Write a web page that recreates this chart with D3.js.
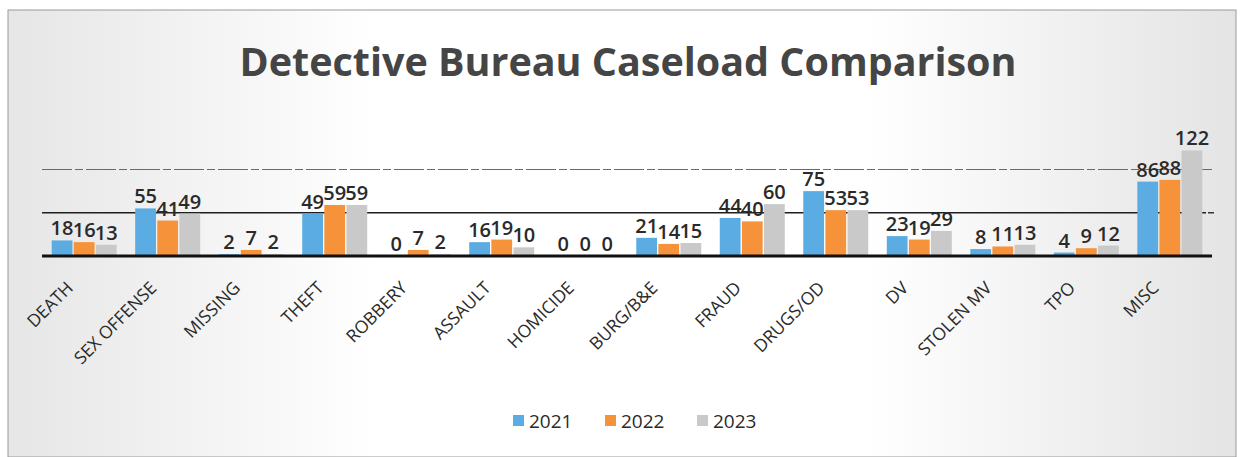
<!DOCTYPE html>
<meta charset="utf-8">
<script src="https://d3js.org/d3.v7.min.js"></script>
<style>
   body {
      margin: 0;
      padding: 0;
      background: #ffffff;
      font-family: "Open Sans", "Noto Sans", sans-serif;
   }
</style>
<body>
<svg id="chart" width="1242" height="457"></svg>
<script>
   // data
   var categories = ["DEATH", "SEX OFFENSE", "MISSING", "THEFT", "ROBBERY", "ASSAULT", "HOMICIDE",
      "BURG/B&E", "FRAUD", "DRUGS/OD", "DV", "STOLEN MV", "TPO", "MISC"];
   var years = ["2021", "2022", "2023"];
   var v2021 = [18, 55, 2, 49, 0, 16, 0, 21, 44, 75, 23, 8, 4, 86];
   var v2022 = [16, 41, 7, 59, 7, 19, 0, 14, 40, 53, 19, 11, 9, 88];
   var v2023 = [13, 49, 2, 59, 2, 10, 0, 15, 60, 53, 29, 13, 12, 122];
   var gridValues = [50, 100];

   var series = [v2021, v2022, v2023];
   var colors = ["#5aace2", "#f5923a", "#c9c9c9"];

   var svg = d3.select("#chart"),
      width = +svg.attr("width"),
      height = +svg.attr("height");

   // background with the slightly grey edges of the scan
   var defs = svg.append("defs");
   var grad = defs.append("linearGradient").attr("id", "bg")
      .attr("x1", "0").attr("x2", "1").attr("y1", "0").attr("y2", "0");
   grad.append("stop").attr("offset", "0").attr("stop-color", "#e6e6e6");
   grad.append("stop").attr("offset", "0.3").attr("stop-color", "#ffffff");
   grad.append("stop").attr("offset", "0.7").attr("stop-color", "#ffffff");
   grad.append("stop").attr("offset", "1").attr("stop-color", "#e4e4e4");
   svg.append("rect").attr("width", width).attr("height", height).attr("fill", "#fff");
   svg.append("rect").attr("x", 8).attr("y", 10).attr("width", width - 14).attr("height", height - 10)
      .attr("fill", "url(#bg)").attr("stroke", "#9a9a9a").attr("stroke-width", 1);

   var margin = { left: 42, right: 30 };
   var plotW = width - margin.left - margin.right;
   var baseY = 256;

   var x0 = d3.scaleBand().domain(categories).range([margin.left, margin.left + plotW]).paddingInner(0.19).paddingOuter(0.1);
   var x1 = d3.scaleBand().domain(years).range([0, x0.bandwidth()]).padding(0.06);
   var y = d3.scaleLinear().domain([0, 150]).range([baseY, baseY - 150 * 0.865]);

   // title
   svg.append("text")
      .attr("x", 628).attr("y", 76)
      .attr("text-anchor", "middle")
      .attr("font-size", 40).attr("font-weight", "bold")
      .attr("fill", "#454545")
      .attr("textLength", 777).attr("lengthAdjust", "spacingAndGlyphs")
      .text("Detective Bureau Caseload Comparison");

   // gridlines
   svg.append("line")
      .attr("x1", margin.left).attr("x2", 1212)
      .attr("y1", y(gridValues[1])).attr("y2", y(gridValues[1]))
      .attr("stroke", "#6a6a6a").attr("stroke-width", 1.2).attr("stroke-dasharray", "30,3,8,3");
   svg.append("line")
      .attr("x1", margin.left).attr("x2", 1206)
      .attr("y1", y(gridValues[0])).attr("y2", y(gridValues[0]))
      .attr("stroke", "#1e1e1e").attr("stroke-width", 1.5);
   svg.append("line")
      .attr("x1", 1208).attr("x2", 1214)
      .attr("y1", y(gridValues[0])).attr("y2", y(gridValues[0]))
      .attr("stroke", "#333").attr("stroke-width", 1.5);

   var data = categories.map(function (c, i) {
      return { cat: c, vals: years.map(function (yr, k) { return { year: yr, k: k, v: series[k][i] }; }) };
   });

   var groups = svg.append("g").selectAll("g")
      .data(data).enter().append("g")
      .attr("transform", function (d) { return "translate(" + x0(d.cat) + ",0)"; });

   groups.selectAll("rect")
      .data(function (d) { return d.vals; })
      .enter().append("rect")
      .attr("x", function (d) { return x1(d.year); })
      .attr("y", function (d) { return y(d.v); })
      .attr("width", x1.bandwidth())
      .attr("height", function (d) { return baseY - y(d.v); })
      .attr("fill", function (d) { return colors[d.k]; });

   groups.selectAll("text")
      .data(function (d) { return d.vals; })
      .enter().append("text")
      .attr("x", function (d) { return x1(d.year) + x1.bandwidth() / 2; })
      .attr("y", function (d) { return y(d.v) - 5; })
      .attr("text-anchor", "middle")
      .attr("font-size", 20).attr("font-weight", 600)
      .attr("fill", "#2a2a2a")
      .text(function (d) { return d.v; });

   // baseline
   svg.append("line")
      .attr("x1", margin.left).attr("x2", 1212)
      .attr("y1", baseY).attr("y2", baseY)
      .attr("stroke", "#111").attr("stroke-width", 3);

   // category labels
   svg.append("g").selectAll("text")
      .data(categories).enter().append("text")
      .attr("transform", function (d) {
         var cx = x0(d) + x0.bandwidth() / 2 - 10;
         return "translate(" + cx + ",289) rotate(-45)";
      })
      .attr("text-anchor", "end")
      .attr("font-size", 17.5)
      .attr("fill", "#2a2a2a")
      .text(function (d) { return d; });

   // legend
   var legend = svg.append("g").selectAll("g")
      .data(years).enter().append("g")
      .attr("transform", function (d, i) { return "translate(" + (513 + i * 92) + ",421)"; });
   legend.append("rect")
      .attr("x", 0).attr("y", -6).attr("width", 11).attr("height", 11)
      .attr("fill", function (d, i) { return colors[i]; });
   legend.append("text")
      .attr("x", 16).attr("y", 7)
      .attr("font-size", 19)
      .attr("fill", "#2a2a2a")
      .text(function (d) { return d; });
</script>
</body>
